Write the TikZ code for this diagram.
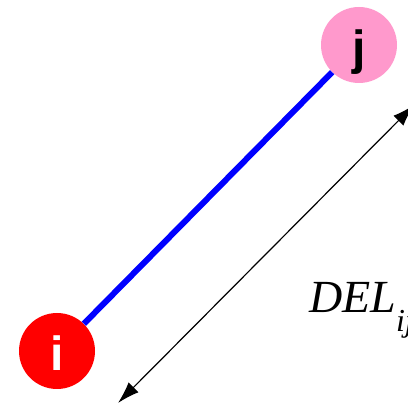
\documentclass[tikz,border=0pt]{standalone}
\usepackage{fontspec}
\setmainfont{Liberation Serif}
\newfontfamily\atomfont{Liberation Sans}
\usepackage{tikz}
\usetikzlibrary{arrows.meta}
\definecolor{atompink}{HTML}{FF99CC}

\begin{document}
\begin{tikzpicture}[x=1pt, y=1pt,
        >={Latex[length=22pt,width=14pt]},
        atom/.style={circle, minimum size=76pt, inner sep=0pt,
            font=\atomfont\bfseries\fontsize{48}{48}\selectfont,
            text height=40pt, text depth=0pt}]
    \useasboundingbox (0,0) rectangle (408,405);
    \clip (0,0) rectangle (408,405);

    \node[atom, fill=red, text=white] (i) at (57,54) {i};
    \node[atom, fill=atompink, text=black] (j) at (359,360) {j};
    \coordinate (d0) at (118,2);
    \coordinate (d1) at (414,300);

    \draw[blue, line width=6pt] (i) -- (j);
    \draw[<->, line width=1.2pt] (d0) -- (d1);
    \node[anchor=base west, inner sep=0pt, font=\fontsize{46}{46}\selectfont\itshape] (del) at (309,92)
        {DEL\raisebox{-19pt}{\fontsize{32}{32}\selectfont ij}};
\end{tikzpicture}
\end{document}
